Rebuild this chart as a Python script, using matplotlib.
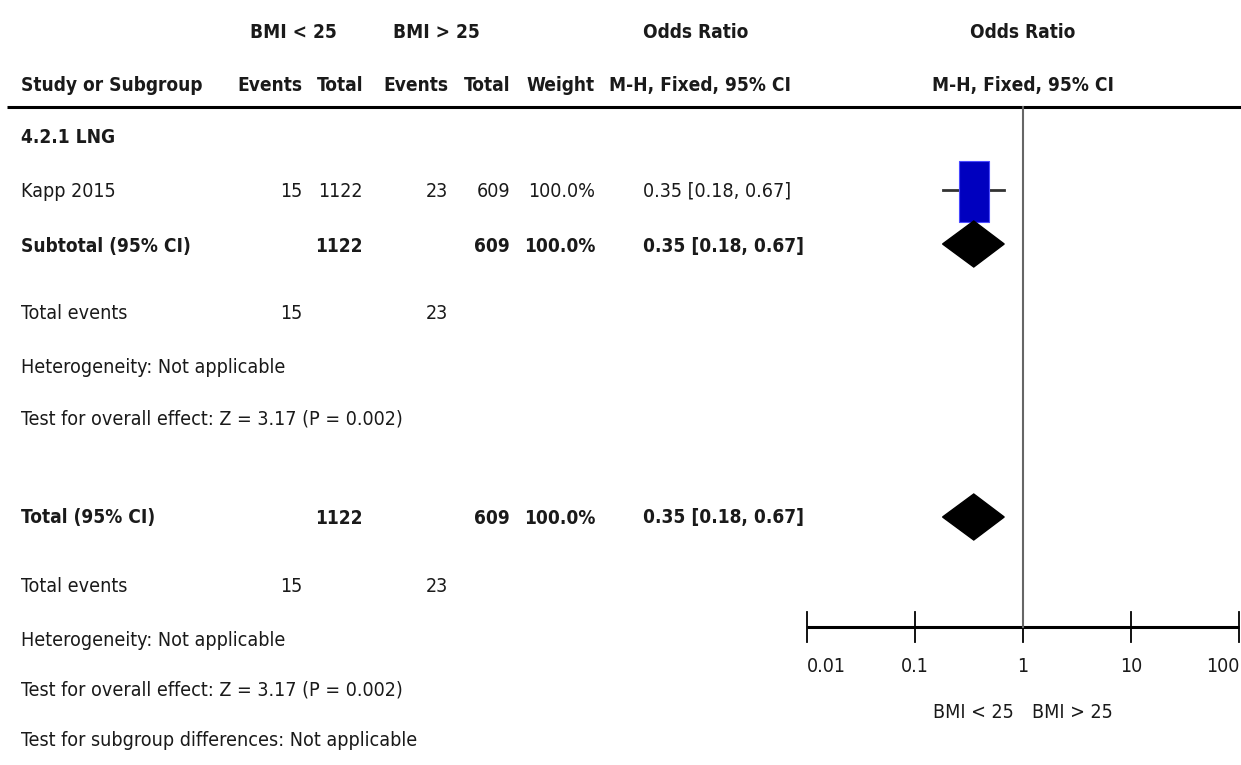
import numpy as np
import matplotlib
matplotlib.use('Agg')
import matplotlib.pyplot as plt
from matplotlib import font_manager
from matplotlib.patches import Polygon, Rectangle

# data
studies = ['Kapp 2015']
events_lo = [15]
total_lo = [1122]
events_hi = [23]
total_hi = [609]
weight = [100.0]
odds = [0.35]
ci_low = [0.18]
ci_high = [0.67]

sub_total_lo = 1122
sub_total_hi = 609
sub_weight = 100.0
sub_or = 0.35
sub_low = 0.18
sub_high = 0.67

tick_vals = [0.01, 0.1, 1, 10, 100]
tick_labels = ['0.01', '0.1', '1', '10', '100']

# the source uses a narrow Arial-like face; pick the narrowest we have
names = {f.name for f in font_manager.fontManager.ttflist}
stretch = 'normal'
if 'Liberation Sans Narrow' in names:
    family = 'Liberation Sans Narrow'
elif any(f.name == 'DejaVu Sans' and f.stretch == 'condensed' for f in font_manager.fontManager.ttflist):
    family = 'DejaVu Sans'
    stretch = 'condensed'
else:
    family = 'Liberation Sans'
plt.rcParams['font.family'] = [family, 'DejaVu Sans']

W, H = 1241, 765
fig = plt.figure(figsize=(W/100, H/100), dpi=100)
renderer = fig.canvas.get_renderer()

def width_px(s, size, bold):
    t = fig.text(0, 0, s, fontsize=size, fontstretch=stretch,
                 fontweight='bold' if bold else 'normal')
    w = t.get_window_extent(renderer=renderer).width
    t.remove()
    return w

# scale sizes so widths match the reference
fs = 18 * 264 / width_px('Heterogeneity: Not applicable', 18, False)
fsb = 18 * 182 / width_px('Study or Subgroup', 18, True)

# table part, in pixel coordinates
ax = fig.add_axes([0, 0, 1, 1])
ax.set_xlim(0, W)
ax.set_ylim(H, 0)
ax.axis('off')

col = '#1a1a1a'

def txt(x, y, s, ha='left', bold=False):
    ax.text(x, y, s, ha=ha, va='center', fontsize=fsb if bold else fs,
            color=col, fontstretch=stretch,
            fontweight='bold' if bold else 'normal')

def fmt_ci(o, l, h):
    return '%.2f [%.2f, %.2f]' % (o, l, h)

# column positions
x_lab = 21
x_ev1, x_tot1, x_ev2, x_tot2, x_w = 302, 363, 448, 510, 595
x_or = 643
x_plot = 1023

# headers
txt(293, 32, 'BMI < 25', 'center', True)
txt(436, 32, 'BMI > 25', 'center', True)
txt(696, 32, 'Odds Ratio', 'center', True)
txt(x_plot, 32, 'Odds Ratio', 'center', True)

txt(x_lab, 85, 'Study or Subgroup', bold=True)
txt(x_ev1, 85, 'Events', 'right', True)
txt(x_tot1, 85, 'Total', 'right', True)
txt(x_ev2, 85, 'Events', 'right', True)
txt(x_tot2, 85, 'Total', 'right', True)
txt(x_w, 85, 'Weight', 'right', True)
txt(700, 85, 'M-H, Fixed, 95% CI', 'center', True)
txt(x_plot, 85, 'M-H, Fixed, 95% CI', 'center', True)

ax.plot([7, W], [107, 107], color='black', lw=2.2, solid_capstyle='butt')

txt(x_lab, 137, '4.2.1 LNG', bold=True)

row_y = [191]
for i in range(len(studies)):
    y = row_y[i]
    txt(x_lab, y, studies[i])
    txt(x_ev1, y, str(events_lo[i]), 'right')
    txt(x_tot1, y, str(total_lo[i]), 'right')
    txt(x_ev2, y, str(events_hi[i]), 'right')
    txt(x_tot2, y, str(total_hi[i]), 'right')
    txt(x_w, y, '%.1f%%' % weight[i], 'right')
    txt(x_or, y, fmt_ci(odds[i], ci_low[i], ci_high[i]))

# subtotal block
txt(x_lab, 246, 'Subtotal (95% CI)', bold=True)
txt(x_tot1, 246, str(sub_total_lo), 'right', True)
txt(x_tot2, 246, str(sub_total_hi), 'right', True)
txt(x_w, 246, '%.1f%%' % sub_weight, 'right', True)
txt(x_or, 246, fmt_ci(sub_or, sub_low, sub_high), bold=True)
txt(x_lab, 313, 'Total events')
txt(x_ev1, 313, str(sum(events_lo)), 'right')
txt(x_ev2, 313, str(sum(events_hi)), 'right')
txt(x_lab, 367, 'Heterogeneity: Not applicable')
txt(x_lab, 419, 'Test for overall effect: Z = 3.17 (P = 0.002)')

# total block
txt(x_lab, 518, 'Total (95% CI)', bold=True)
txt(x_tot1, 518, str(sub_total_lo), 'right', True)
txt(x_tot2, 518, str(sub_total_hi), 'right', True)
txt(x_w, 518, '%.1f%%' % sub_weight, 'right', True)
txt(x_or, 518, fmt_ci(sub_or, sub_low, sub_high), bold=True)
txt(x_lab, 587, 'Total events')
txt(x_ev1, 587, str(sum(events_lo)), 'right')
txt(x_ev2, 587, str(sum(events_hi)), 'right')
txt(x_lab, 640, 'Heterogeneity: Not applicable')
txt(x_lab, 690, 'Test for overall effect: Z = 3.17 (P = 0.002)')
txt(x_lab, 740, 'Test for subgroup differences: Not applicable')

# forest part, log x axis, same pixel y
fx0, fx1 = 807, 1239
fa = fig.add_axes([fx0/W, 0, (fx1-fx0)/W, 1])
fa.set_xscale('log')
fa.set_xlim(0.01, 100)
fa.set_ylim(H, 0)
fa.patch.set_alpha(0)
for s in fa.spines.values():
    s.set_visible(False)
fa.set_yticks([])
fa.set_xticks([])
fa.minorticks_off()

y_axis = 627
fa.plot([tick_vals[0], tick_vals[-1]], [y_axis, y_axis], color='black', lw=2.2,
        solid_capstyle='butt', clip_on=False)
for k, tv in enumerate(tick_vals):
    fa.plot([tv, tv], [612, 642], color='black', lw=1.3, clip_on=False)
    ha = 'left' if k == 0 else ('right' if k == len(tick_vals)-1 else 'center')
    fa.text(tv, 667, tick_labels[k], ha=ha, va='center', fontsize=fs,
            fontstretch=stretch, color=col)

fa.plot([1, 1], [107, y_axis], color='#666666', lw=1.5)

# study boxes with CI lines
half = 0.14
for i in range(len(studies)):
    y = row_y[i]
    fa.plot([ci_low[i], ci_high[i]], [y - 1, y - 1], color='#333333', lw=2, zorder=2)
    lo_b = odds[i] / 10**half
    hi_b = odds[i] * 10**half
    fa.add_patch(Rectangle((lo_b, y - 30), hi_b - lo_b, 61, zorder=3,
                           facecolor='#0000bf', edgecolor='#4a4aff', lw=0.8))

def diamond(yc, o, l, h, hh=23):
    fa.add_patch(Polygon([[l, yc], [o, yc - hh], [h, yc], [o, yc + hh]],
                         closed=True, facecolor='black', edgecolor='black', zorder=3))

diamond(244, sub_or, sub_low, sub_high)
diamond(517, sub_or, sub_low, sub_high)

txt(1014, 712, 'BMI < 25', 'right')
txt(1032, 712, 'BMI > 25', 'left')

fig.savefig('out.png', dpi=100)
